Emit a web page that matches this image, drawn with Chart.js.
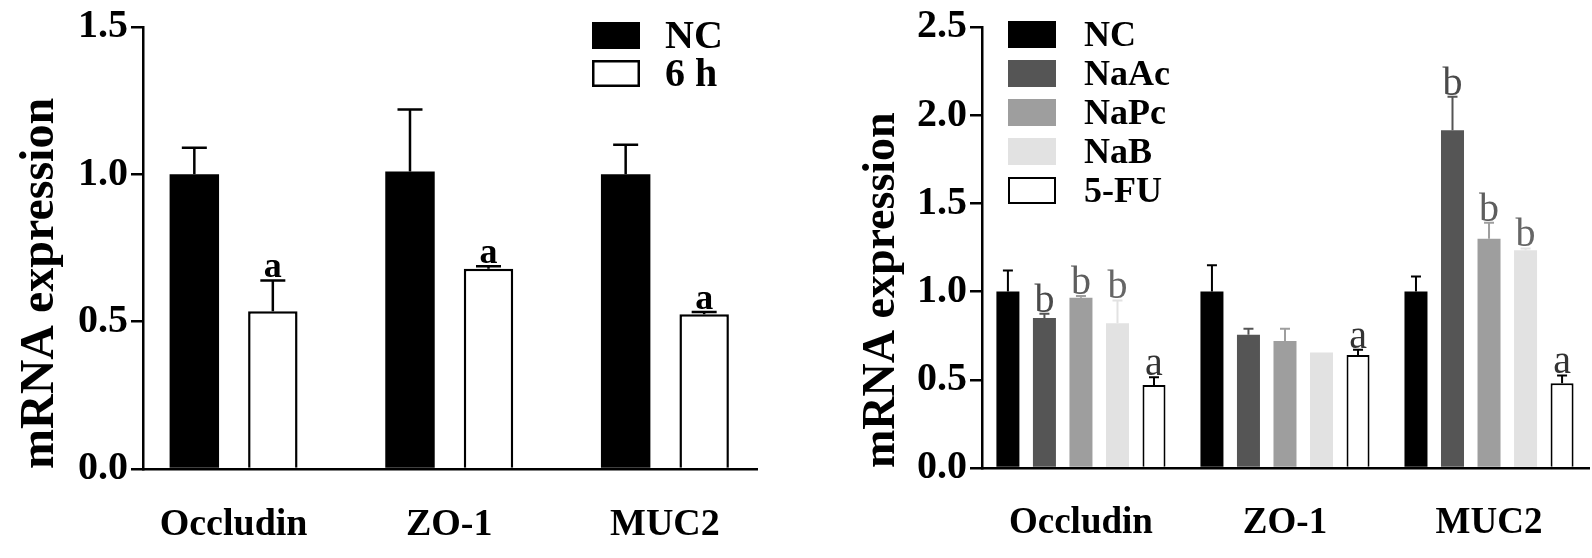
<!DOCTYPE html>
<html>
<head>
<meta charset="utf-8">
<script src="https://cdn.jsdelivr.net/npm/chart.js@4.4.0/dist/chart.umd.min.js"></script>
<style>
  html, body { margin: 0; padding: 0; background: #fff; }
  #wrap { position: relative; width: 1592px; height: 558px; }
  .panel { position: absolute; top: 0; height: 558px; }
  #left { left: 0; width: 790px; }
  #right { left: 790px; width: 802px; }
</style>
</head>
<body>
<div id="wrap">
  <div class="panel" id="left"><canvas id="chartLeft"></canvas></div>
  <div class="panel" id="right"><canvas id="chartRight"></canvas></div>
</div>
<script>
// categories shared by both panels
const genes = ['Occludin', 'ZO-1', 'MUC2'];

// left panel: NC vs 6 h
const leftGroups = ['NC', '6 h'];
const leftNC = [1.00, 1.01, 1.00];
const leftNCErr = [0.09, 0.21, 0.10];
const left6h = [0.535, 0.68, 0.525];
const left6hErr = [0.105, 0.008, 0.008];
const left6hMarks = ['a', 'a', 'a'];
const leftTicks = [0, 0.5, 1.0, 1.5];

// right panel: short chain fatty acids
const rightGroups = ['NC', 'NaAc', 'NaPc', 'NaB', '5-FU'];
const rightNC = [1.00, 1.00, 1.00];
const rightNCErr = [0.12, 0.15, 0.085];
const rightNaAc = [0.85, 0.755, 1.915];
const rightNaAcErr = [0.025, 0.035, 0.19];
const rightNaPc = [0.965, 0.72, 1.30];
const rightNaPcErr = [0.01, 0.07, 0.09];
const rightNaB = [0.82, 0.655, 1.235];
const rightNaBErr = [0.13, 0, 0.01];
const right5FU = [0.47, 0.64, 0.48];
const right5FUErr = [0.045, 0.03, 0.045];
const rightMarks = [
  ['', '', ''],
  ['b', '', 'b'],
  ['b', '', 'b'],
  ['b', '', 'b'],
  ['a', 'a', 'a']
];
const rightTicks = [0, 0.5, 1.0, 1.5, 2.0, 2.5];

const serif = "'Liberation Serif', 'Times New Roman', serif";

function points(values) {
  return values.map((v, i) => ({ x: i, y: v }));
}

// draws SEM whiskers (upwards only) and significance letters
const errorBars = {
  id: 'errorBars',
  afterDatasetsDraw(chart, args, opts) {
    const ctx = chart.ctx;
    const yScale = chart.scales.y;
    chart.data.datasets.forEach((ds, di) => {
      const meta = chart.getDatasetMeta(di);
      meta.data.forEach((bar, i) => {
        const v = ds.data[i].y;
        const err = ds.errors[i] || 0;
        const yTop = yScale.getPixelForValue(v + err);
        ctx.save();
        ctx.strokeStyle = ds.errColor;
        ctx.lineWidth = opts.lineWidth;
        if (err > 0) {
          ctx.beginPath();
          ctx.moveTo(bar.x, bar.y);
          ctx.lineTo(bar.x, yTop);
          ctx.moveTo(bar.x - opts.cap / 2, yTop);
          ctx.lineTo(bar.x + opts.cap / 2, yTop);
          ctx.stroke();
        }
        const mark = ds.marks ? ds.marks[i] : '';
        if (mark) {
          ctx.fillStyle = ds.markColor;
          ctx.font = opts.markFont;
          ctx.textAlign = 'center';
          ctx.textBaseline = 'alphabetic';
          ctx.fillText(mark, bar.x, yTop - opts.markGap);
        }
        ctx.restore();
      });
    });
  }
};

// legend with filled boxes, placed inside the plot
const boxLegend = {
  id: 'boxLegend',
  afterDraw(chart, args, opts) {
    const ctx = chart.ctx;
    ctx.save();
    chart.data.datasets.forEach((ds, i) => {
      const y = opts.top + i * opts.rowGap;
      ctx.fillStyle = ds.backgroundColor;
      ctx.fillRect(opts.x, y, opts.boxW, opts.boxH);
      if (ds.borderWidth) {
        const bw = ds.borderWidth;
        ctx.lineWidth = bw;
        ctx.strokeStyle = ds.borderColor;
        ctx.strokeRect(opts.x + bw / 2, y + bw / 2, opts.boxW - bw, opts.boxH - bw);
      }
      ctx.fillStyle = '#000';
      ctx.font = opts.font;
      ctx.textAlign = 'left';
      ctx.textBaseline = 'middle';
      ctx.fillText(ds.label, opts.textX, y + opts.boxH / 2 + 2);
    });
    ctx.restore();
  }
};

function makeOptions(cfg) {
  return {
    responsive: true,
    maintainAspectRatio: false,
    animation: false,
    layout: { autoPadding: false, padding: { top: 20, right: cfg.padRight, left: 0, bottom: 0 } },
    plugins: {
      legend: { display: false },
      tooltip: { enabled: false },
      errorBars: cfg.errorBars,
      boxLegend: cfg.legend
    },
    scales: {
      x: {
        type: 'linear',
        min: cfg.xMin,
        max: cfg.xMax,
        offset: false,
        grid: { offset: false, drawOnChartArea: false, drawTicks: false, color: '#000' },
        border: { display: true, color: '#000', width: 2.5 },
        ticks: {
          stepSize: 1,
          includeBounds: false,
          autoSkip: false,
          maxRotation: 0,
          padding: 33,
          color: '#000',
          font: { family: serif, size: cfg.catSize, weight: 'bold' },
          callback: v => genes[v] !== undefined ? genes[v] : ''
        },
        afterFit: s => { s.height = cfg.xHeight; }
      },
      y: {
        min: 0,
        max: cfg.yMax,
        afterBuildTicks: s => { s.ticks = cfg.yTicks.map(v => ({ value: v })); },
        grid: { drawOnChartArea: false, drawTicks: true, tickLength: 12, color: '#000', lineWidth: 2.5 },
        border: { display: true, color: '#000', width: 2.5 },
        ticks: {
          padding: 3,
          color: '#000',
          font: { family: serif, size: 40, weight: 'bold' },
          callback: v => Number(v).toFixed(1)
        },
        title: {
          display: true,
          text: 'mRNA expression',
          align: 'start',
          color: '#000',
          font: { family: serif, size: cfg.titleSize, weight: 'bold' },
          padding: { top: cfg.titlePad, bottom: 0 }
        },
        afterFit: s => { s.width = cfg.yWidth; }
      }
    }
  };
}

new Chart(document.getElementById('chartLeft'), {
  type: 'bar',
  data: {
    datasets: [
      {
        label: leftGroups[0], data: points(leftNC), errors: leftNCErr,
        backgroundColor: '#000', borderWidth: 0, errColor: '#000',
        categoryPercentage: 0.728, barPercentage: 0.63
      },
      {
        label: leftGroups[1], data: points(left6h), errors: left6hErr, marks: left6hMarks,
        backgroundColor: '#fff', borderColor: '#000', borderWidth: 2.5, errColor: '#000', markColor: '#000',
        categoryPercentage: 0.728, barPercentage: 0.63
      }
    ]
  },
  options: makeOptions({
    padRight: 33, xMin: -0.42, xMax: 2.427, xHeight: 89, yWidth: 143, yMax: 1.5,
    yTicks: leftTicks, titlePad: 12, titleSize: 48, catSize: 38,
    errorBars: { lineWidth: 2.5, cap: 25, markGap: 3, markFont: "bold 36px 'Liberation Serif', serif" },
    legend: { x: 592, top: 22, rowGap: 38, boxW: 48, boxH: 27, textX: 665, font: "bold 40px 'Liberation Serif', serif" }
  }),
  plugins: [errorBars, boxLegend]
});

const rightColors = ['#000', '#555555', '#9e9e9e', '#e2e2e2', '#fff'];
const rightErrColors = ['#000', '#555555', '#9e9e9e', '#e2e2e2', '#000'];
const rightMarkColors = ['#000', '#4a4a4a', '#5e5e5e', '#666666', '#333333'];
const rightValues = [rightNC, rightNaAc, rightNaPc, rightNaB, right5FU];
const rightErrs = [rightNCErr, rightNaAcErr, rightNaPcErr, rightNaBErr, right5FUErr];

new Chart(document.getElementById('chartRight'), {
  type: 'bar',
  data: {
    datasets: rightGroups.map((g, i) => ({
      label: g,
      data: points(rightValues[i]),
      errors: rightErrs[i],
      marks: rightMarks[i],
      backgroundColor: rightColors[i],
      borderColor: '#000',
      borderWidth: i === 4 ? 2 : 0,
      errColor: rightErrColors[i],
      markColor: rightMarkColors[i],
      categoryPercentage: 0.895,
      barPercentage: 0.63
    }))
  },
  options: makeOptions({
    padRight: 3, xMin: -0.485, xMax: 2.49, xHeight: 90, yWidth: 192, yMax: 2.5,
    yTicks: rightTicks, titlePad: 65, titleSize: 46, catSize: 37,
    errorBars: { lineWidth: 2, cap: 10, markGap: 2, markFont: "40px 'Liberation Serif', serif" },
    legend: { x: 218, top: 21, rowGap: 39, boxW: 48, boxH: 27, textX: 294, font: "bold 36px 'Liberation Serif', serif" }
  }),
  plugins: [errorBars, boxLegend]
});
</script>
</body>
</html>
